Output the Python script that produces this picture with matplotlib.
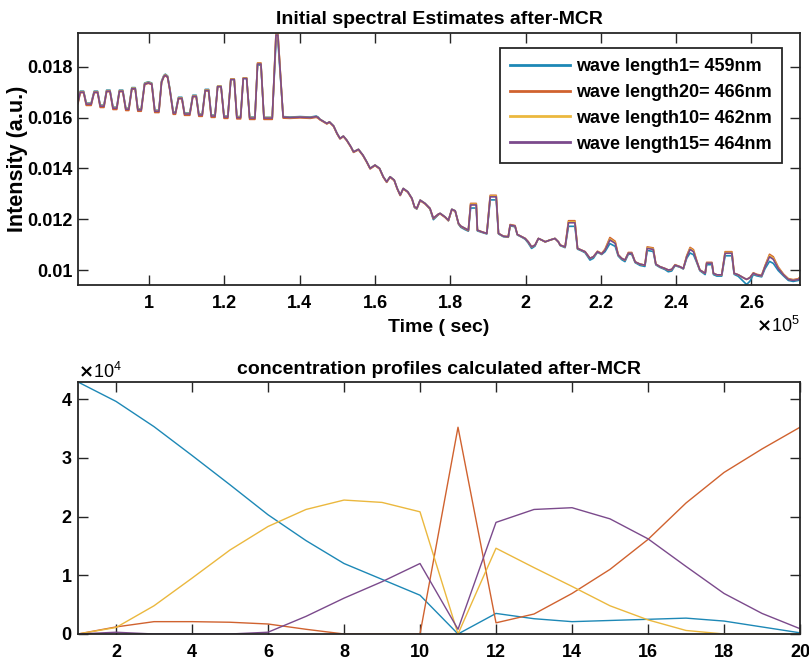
import matplotlib
matplotlib.use("Agg")
import matplotlib.pyplot as plt
from matplotlib.ticker import FuncFormatter, ScalarFormatter, MultipleLocator
import numpy as np

# ---- top panel: intensity vs time (purple trace + small offsets of the others) ----
time_s = [
    81100, 81700, 82600, 83300, 84600, 85400, 86300, 87000, 88000, 88700,
    89600, 90400, 91400, 92100, 93000, 93800, 94600, 95400, 96300, 97000,
    97900, 98800, 99800, 100700, 101500, 102600, 103300, 103900, 104300, 104900,
    105500, 106400, 107000, 107800, 108700, 109400, 110800, 111600, 112500, 113200,
    114100, 114900, 115800, 116500, 117500, 118200, 119100, 119900, 120900, 121700,
    122600, 123300, 124300, 125000, 125900, 126700, 128100, 128800, 129700, 130500,
    132700, 133700, 134200, 135600, 137400, 140100,
    142800, 144400, 144900, 145400, 147200, 147900, 149000, 149900, 150700, 151600,
    152500, 153600, 154300, 155600, 156800, 157800, 158700, 160000, 161200, 162200,
    163100, 164000, 165100, 165900, 166700, 167500, 168700, 169800, 170500, 171100,
    172000, 173300, 174600, 175500, 176800, 177300, 178600, 179500, 180400, 181300,
    182200, 182800, 183900, 184800, 185400, 186900, 187200, 188400, 189700, 190600,
    192200, 192800, 194100, 195400, 195900, 197200, 197800, 199000, 199900, 200700,
    201600, 202500, 203400, 204300, 205200, 206500, 207800, 208700, 209200, 210500,
    211400, 213100, 213800, 214900, 215800, 217100, 218000, 219100, 220200, 221100,
    222400, 223800, 224600, 225500, 226400, 227300, 228200, 229100, 230400, 231700,
    232300, 233900, 234600, 235700, 237000, 237900, 238800, 239700, 241000, 241900,
    242800, 243700, 244600, 245500, 246300, 247700, 248100, 249500, 249900, 250800,
    252100, 253000, 254800, 255400, 256500, 257800, 258700, 259600, 260500, 261400,
    262700, 263600, 264800, 265800, 267100, 268500, 269800, 271100, 272500, 272900,
]

wl15 = [
    0.01660, 0.01700, 0.01700, 0.01653, 0.01653, 0.01700, 0.01700, 0.01645, 0.01645, 0.01704,
    0.01704, 0.01637, 0.01637, 0.01704, 0.01704, 0.01633, 0.01633, 0.01714, 0.01714, 0.01630,
    0.01630, 0.01732, 0.01737, 0.01732, 0.01625, 0.01625, 0.01740, 0.01762, 0.01767, 0.01760,
    0.01710, 0.01618, 0.01618, 0.01676, 0.01676, 0.01614, 0.01614, 0.01684, 0.01684, 0.01610,
    0.01610, 0.01707, 0.01707, 0.01606, 0.01606, 0.01722, 0.01722, 0.01602, 0.01602, 0.01750,
    0.01750, 0.01600, 0.01600, 0.01754, 0.01754, 0.01598, 0.01598, 0.01811, 0.01811, 0.01598,
    0.01598, 0.01925, 0.01925, 0.01602, 0.01600, 0.01602,
    0.01600, 0.01604, 0.01600, 0.01593, 0.01577, 0.01583, 0.01567, 0.01538, 0.01518, 0.01527,
    0.01511, 0.01485, 0.01465, 0.01475, 0.01452, 0.01426, 0.01400, 0.01413, 0.01400, 0.01367,
    0.01347, 0.01367, 0.01354, 0.01321, 0.01295, 0.01321, 0.01308, 0.01282, 0.01249, 0.01243,
    0.01275, 0.01262, 0.01243, 0.01204, 0.01220, 0.01223, 0.01209, 0.01196, 0.01239, 0.01233,
    0.01183, 0.01173, 0.01164, 0.01157, 0.01256, 0.01256, 0.01157, 0.01150, 0.01144, 0.01288,
    0.01288, 0.01144, 0.01133, 0.01131, 0.01177, 0.01173, 0.01140, 0.01131, 0.01124, 0.01111,
    0.01091, 0.01098, 0.01124, 0.01118, 0.01111, 0.01118, 0.01124, 0.01111, 0.01098, 0.01091,
    0.01186, 0.01186, 0.01085, 0.01078, 0.01072, 0.01046, 0.01052, 0.01072, 0.01063, 0.01078,
    0.01118, 0.01105, 0.01059, 0.01046, 0.01039, 0.01066, 0.01066, 0.01032, 0.01023, 0.01019,
    0.01085, 0.01081, 0.01023, 0.01013, 0.01006, 0.01000, 0.01002, 0.01019, 0.01013, 0.01006,
    0.01052, 0.01081, 0.01072, 0.01032, 0.01000, 0.00987, 0.01027, 0.01027, 0.00987, 0.00981,
    0.00981, 0.01066, 0.01066, 0.00987, 0.00981, 0.00970, 0.00963, 0.00970, 0.00987, 0.00981,
    0.00977, 0.01013, 0.01052, 0.01042, 0.01006, 0.00981, 0.00963, 0.00959, 0.00963, 0.00970,
]

# differences to the purple trace, in units of 1e-5
d_wl20 = [
    -5, -2, -2, -5, -5, -2, -2, -5, -5, -2,
    -2, -5, -5, -2, -2, -5, -5, -2, -2, -5,
    -5, -2, -2, -2, -5, -5, -2, -2, -2, -2,
    -2, -5, -5, -2, -2, -5, -5, -2, -2, -5,
    -5, -2, -2, -5, -5, 0, 0, -5, -5, 2,
    2, -5, -5, 2, 2, -5, -5, 4, 4, -5,
    -5, 8, 8, -4, -3, -3,
    -3, -3, -3, -2, -2, -2, -2, -2, -2, -2,
    -2, -2, -2, -2, -2, -2, -2, -2, -2, -2,
    -2, -2, -2, -2, -2, -2, -2, -2, -2, -2,
    -2, -2, -2, -2, -2, -2, -2, -2, -2, -2,
    -2, -2, -2, -2, 6, 6, 0, 0, 0, 6,
    6, 0, 0, 0, 2, 2, 0, 0, 0, 0,
    0, 0, 0, 0, 0, 0, 0, 0, 0, 0,
    8, 8, 0, 0, 0, 0, 0, 2, 2, 4,
    10, 8, 2, 0, 0, 3, 3, 0, 0, 0,
    6, 6, 0, 0, 0, 0, 0, 2, 0, 0,
    4, 8, 8, 3, 0, 0, 3, 3, 0, 0,
    0, 6, 6, 0, 0, 0, 0, 0, 2, 2,
    2, 4, 10, 10, 6, 3, 3, 3, 3, 3,
]

d_wl1 = [
    4, 4, 4, 4, 4, 4, 4, 4, 4, 4,
    4, 4, 4, 4, 4, 4, 4, 4, 4, 4,
    4, 4, 4, 4, 4, 4, 4, 4, 4, 4,
    4, 4, 4, 4, 4, 4, 4, 4, 4, 4,
    4, 4, 4, 4, 4, 2, 2, 4, 4, 0,
    0, 4, 4, 0, 0, 4, 4, -4, -4, 3,
    3, -24, -20, 2, 2, 2,
    2, 2, 2, 0, 0, 0, 0, 0, 0, 0,
    0, 0, 0, 0, 0, 0, 0, 0, 0, 0,
    0, 0, 0, 0, 0, 0, 0, 0, -3, -3,
    0, 0, -3, -6, -3, 0, 0, -2, 0, 0,
    -3, -5, -5, -4, -12, -12, -3, -2, -2, -12,
    -12, -2, -2, -2, -3, -3, -2, -2, -3, -5,
    -6, -4, 0, 0, 0, 0, 0, 0, -2, -3,
    -14, -14, -3, -3, -4, -7, -6, -2, -2, -6,
    -14, -12, -4, -5, -6, -4, -4, -3, -5, -5,
    -8, -8, -3, -3, -4, -7, -6, -2, -2, -2,
    -6, -14, -12, -4, -3, -5, -6, -6, -5, -5,
    -5, -10, -10, -4, -6, -14, -20, -14, -5, -4,
    -4, -8, -18, -16, -8, -4, -4, -4, -4, -3,
]

d_wl10 = [
    2, 2, 2, 2, 2, 2, 2, 2, 2, 2,
    2, 2, 2, 2, 2, 2, 2, 2, 2, 2,
    2, 2, 2, 2, 2, 2, 2, 2, 2, 2,
    2, 2, 2, 2, 2, 2, 2, 2, 2, 2,
    2, 2, 2, 2, 2, 2, 2, 2, 2, 2,
    2, 2, 2, 2, 2, 2, 2, 2, 2, 2,
    2, 4, 4, 0, 0, 0,
    0, 0, 0, 0, 0, 0, 0, 0, 0, 0,
    0, 0, 0, 0, 0, 0, 0, 0, 0, 0,
    0, 0, 0, 0, 0, 0, 0, 0, 0, 0,
    0, 0, 0, 0, 0, 0, 0, 0, 0, 0,
    0, 0, 0, 0, 3, 3, 0, 0, 0, 3,
    3, 0, 0, 0, 0, 0, 0, 0, 0, 0,
    0, 0, 0, 0, 0, 0, 0, 0, 0, 0,
    4, 4, 0, 0, 0, 0, 0, 0, 0, 2,
    4, 4, 0, 0, 0, 0, 0, 0, 0, 0,
    3, 3, 0, 0, 0, 0, 0, 0, 0, 0,
    2, 4, 4, 0, 0, 0, 0, 0, 0, 0,
    0, 3, 3, 0, 0, 0, 0, 0, 0, 0,
    0, 2, 5, 5, 3, 1, 1, 1, 1, 1,
]

legend_labels = ["wave length1= 459nm", "wave length20= 466nm",
                 "wave length10= 462nm", "wave length15= 464nm"]

# ---- bottom panel: concentration profiles ----
comp_idx = list(range(1, 21))
conc_1 = [42900, 39600, 35300, 30400, 25400, 20300, 15900, 12000, 9300, 6600,
          0, 3500, 2600, 2100, 2300, 2500, 2700, 2200, 1200, 200]
conc_2 = [0, 1200, 2100, 2100, 2000, 1700, 800, 0, 0, 0,
          35200, 1900, 3400, 6900, 11000, 16100, 22300, 27500, 31500, 35200]
conc_3 = [0, 1100, 4800, 9500, 14300, 18300, 21200, 22800, 22400, 20800,
          0, 14600, 11300, 8100, 4800, 2400, 600, 0, 0, 0]
conc_4 = [0, 300, 0, 0, 0, 300, 3000, 6100, 8900, 12000,
          800, 19000, 21200, 21500, 19600, 16200, 11500, 6900, 3500, 900]

colors = ["#1d88b6", "#d0622f", "#ebb83e", "#7b4a8c"]

plt.rcParams['font.family'] = ['Liberation Sans', 'DejaVu Sans']
plt.rcParams['font.weight'] = 'bold'
plt.rcParams['axes.titleweight'] = 'bold'
plt.rcParams['axes.labelweight'] = 'bold'

fig = plt.figure(figsize=(8.09, 6.64), dpi=100)
ax1 = fig.add_axes([0.0964, 0.5708, 0.8925, 0.3795])
ax2 = fig.add_axes([0.0964, 0.0452, 0.8925, 0.3795])

t = np.array(time_s)
base = np.array(wl15)
series = [
    base + np.array(d_wl1) * 1e-5,
    base + np.array(d_wl20) * 1e-5,
    base + np.array(d_wl10) * 1e-5,
    base,
]
for y, c, lab in zip(series, colors, legend_labels):
    ax1.plot(t, y, color=c, lw=1.2, label=lab)

ax1.set_xlim(81100, 272900)
ax1.set_ylim(0.00941, 0.01933)
ax1.xaxis.set_major_locator(MultipleLocator(20000))
ax1.yaxis.set_major_locator(MultipleLocator(0.002))
ax1.xaxis.set_major_formatter(FuncFormatter(lambda v, p: '%g' % (v / 1e5)))
ax1.yaxis.set_major_formatter(FuncFormatter(lambda v, p: '%g' % round(v, 4)))
ax1.set_title("Initial spectral Estimates after-MCR", fontsize=14, pad=6.5)
ax1.set_xlabel("Time ( sec)", fontsize=14)
ax1.set_ylabel("Intensity (a.u.)", fontsize=15.5)
ax1.xaxis.set_label_coords(0.5, -0.135)
ax1.yaxis.set_label_coords(-0.069, 0.5)
ax1.text(1.0, -0.163, r'$\times\mathdefault{10^{5}}$', transform=ax1.transAxes,
         ha='right', va='center', fontsize=13, fontweight='normal')

leg = ax1.legend(loc='upper right', bbox_to_anchor=(0.975, 0.94), borderaxespad=0,
                 fontsize=13, handlelength=3.3, handletextpad=0.35, labelspacing=0.49,
                 borderpad=0.55, fancybox=False, framealpha=1, edgecolor='#262626')
leg.get_frame().set_linewidth(1.3)
for h in leg.get_lines():
    h.set_linewidth(2)

for c, y in zip(colors, [conc_1, conc_2, conc_3, conc_4]):
    ax2.plot(comp_idx, y, color=c, lw=1.0)
ax2.set_xlim(1, 20)
ax2.set_ylim(0, 42900)
ax2.xaxis.set_major_locator(MultipleLocator(2))
ax2.yaxis.set_major_locator(MultipleLocator(10000))
fmt = ScalarFormatter(useMathText=True)
fmt.set_powerlimits((0, 0))
ax2.yaxis.set_major_formatter(fmt)
ax2.yaxis.get_offset_text().set_fontsize(13)
ax2.yaxis.get_offset_text().set_fontweight('normal')
ax2.set_title("concentration profiles calculated after-MCR", fontsize=14, pad=6)

for ax in (ax1, ax2):
    ax.tick_params(direction='in', length=7, width=1, top=True, right=True,
                   labelsize=13, color='#262626')
    ax.tick_params(axis='x', pad=7)
    ax.tick_params(axis='y', pad=4)
    for s in ax.spines.values():
        s.set_linewidth(1.3)
        s.set_color('#262626')

fig.savefig("out.png", dpi=100)
